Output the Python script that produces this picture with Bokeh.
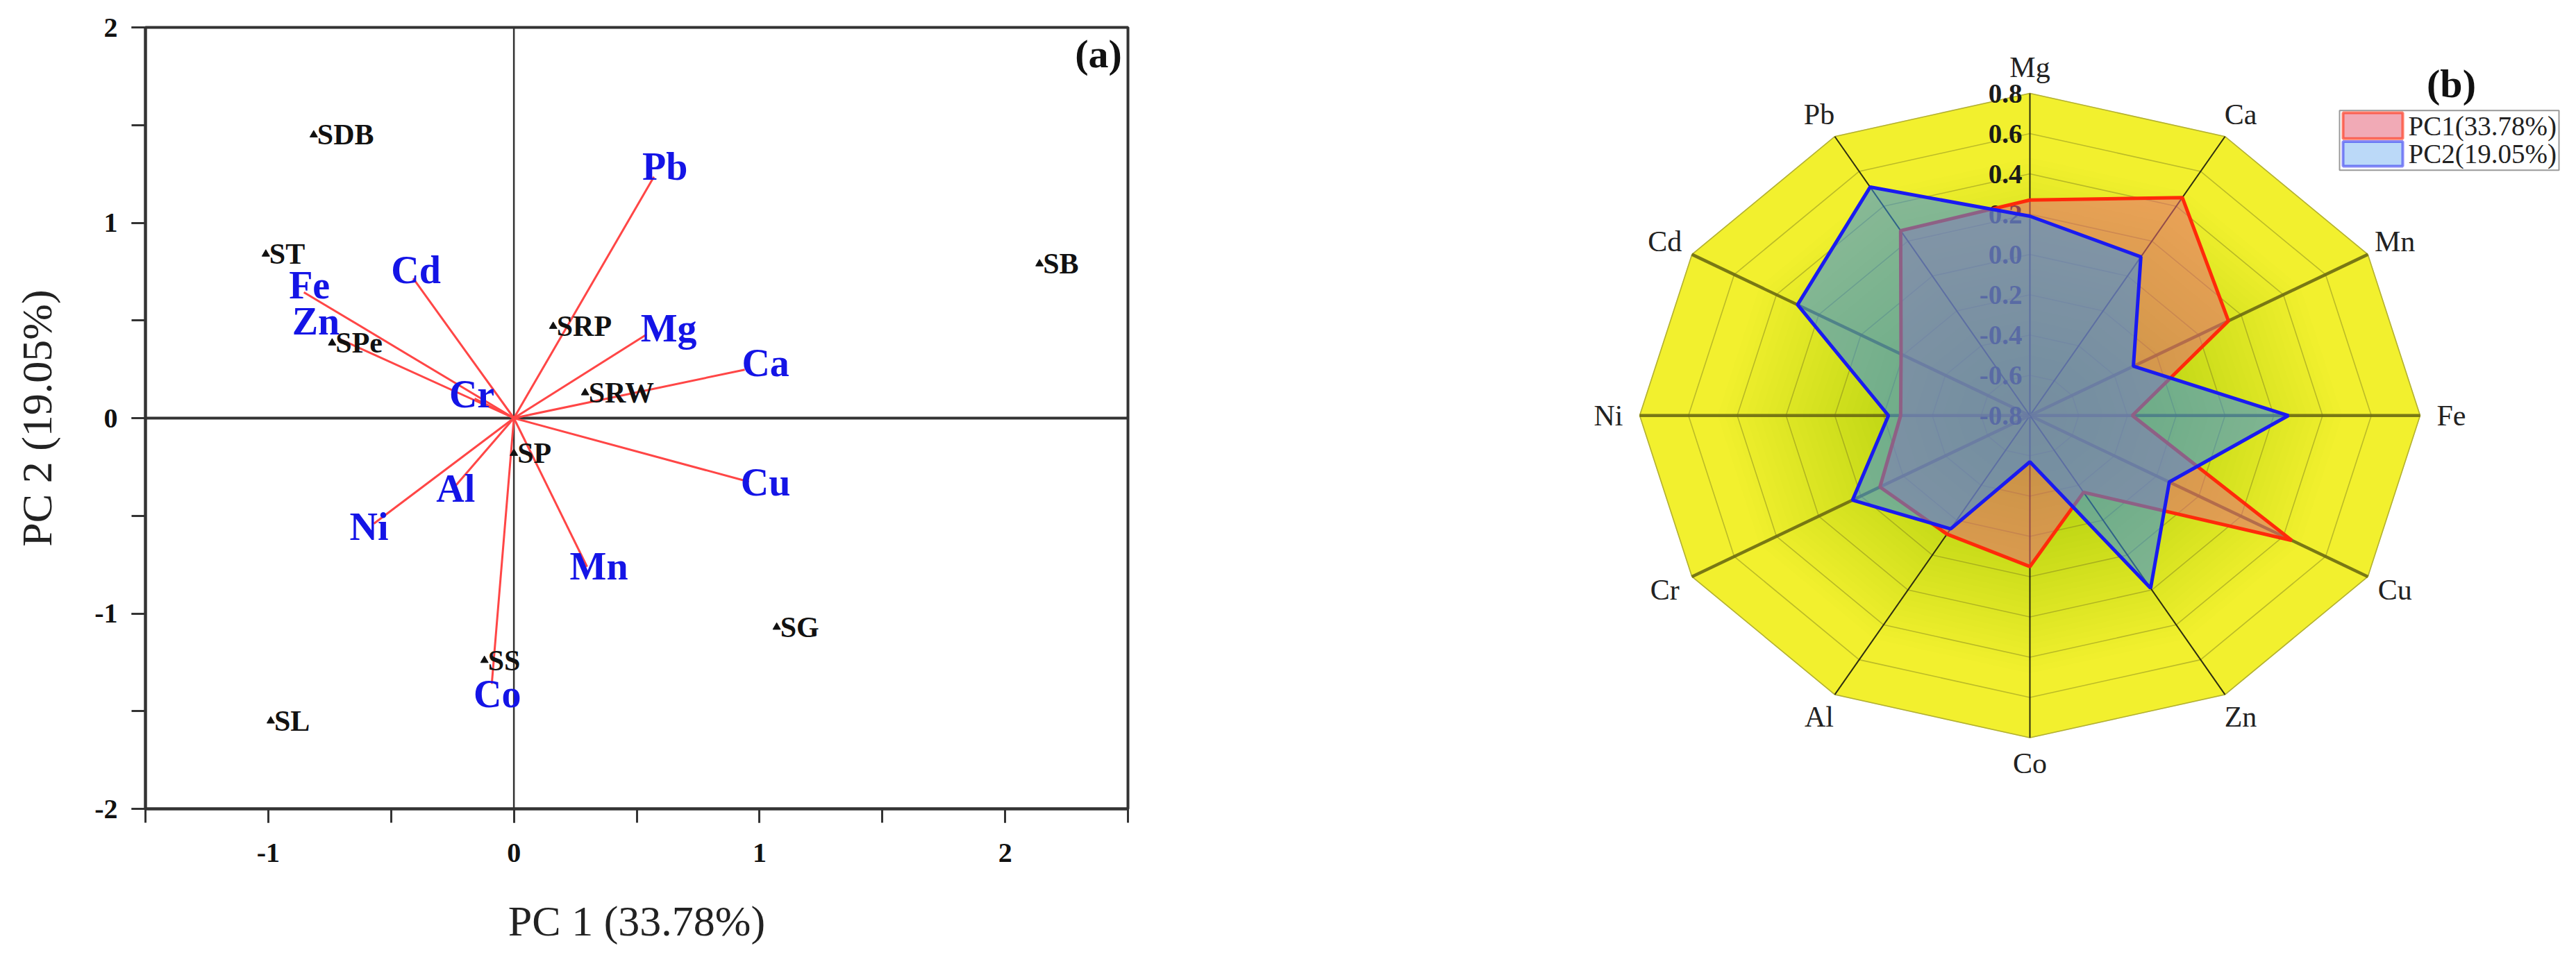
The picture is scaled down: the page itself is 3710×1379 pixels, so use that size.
import numpy as np
from bokeh.plotting import figure
from bokeh.models import Range1d, SingleIntervalTicker, Span, Label, ColumnDataSource
from bokeh.layouts import row
from bokeh.embed import file_html
from bokeh.resources import INLINE
from bokeh.core.properties import value

# ---------------- data: (a) PCA biplot ----------------
sample_names = ["SDB", "ST", "SB", "SRP", "SPe", "SRW", "SP", "SG", "SS", "SL"]
sample_pc1 = [-0.815, -1.01, 2.14, 0.16, -0.74, 0.29, 0.0, 1.07, -0.12, -0.99]
sample_pc2 = [1.45, 0.84, 0.79, 0.47, 0.385, 0.13, -0.18, -1.07, -1.24, -1.55]

loading_names = ["Pb", "Cd", "Fe", "Zn", "Cr", "Mg", "Ca", "Cu", "Mn", "Co", "Ni", "Al"]
loading_pc1 = [0.57, -0.41, -0.855, -0.713, -0.16, 0.54, 0.94, 0.957, 0.298, -0.09, -0.57, -0.24]
loading_pc2 = [1.235, 0.715, 0.644, 0.407, 0.10, 0.428, 0.248, -0.326, -0.761, -1.36, -0.54, -0.35]

x_ticks = [-1, 0, 1, 2]
y_ticks = [-2, -1, 0, 1, 2]
x_title = "PC 1 (33.78%)"
y_title = "PC 2 (19.05%)"

# ---------------- data: (b) radar of loadings ----------------
radar_elements = ["Mg", "Ca", "Mn", "Fe", "Cu", "Zn", "Co", "Al", "Cr", "Ni", "Cd", "Pb"]
radar_pc1 = [0.27, 0.45, 0.14, -0.38, 0.44, -0.36, -0.05, -0.12, -0.09, -0.27, -0.19, 0.26]
radar_pc2 = [0.19, 0.11, -0.31, 0.26, -0.14, 0.19, -0.57, -0.15, 0.04, -0.22, 0.30, 0.51]
radar_ticks = [0.8, 0.6, 0.4, 0.2, 0.0, -0.2, -0.4, -0.6, -0.8]
series_names = ["PC1(33.78%)", "PC2(19.05%)"]

SERIF = "Liberation Serif"

# ======================= panel (a) =======================
p1 = figure(width=2000, height=1363, x_range=Range1d(-1.5, 2.5), y_range=Range1d(-2, 2),
            output_backend="svg", toolbar_location=None,
            min_border_left=209, min_border_top=39, min_border_right=376, min_border_bottom=196)
p1.outline_line_color = "#333333"
p1.outline_line_width = 4
p1.xgrid.visible = False
p1.ygrid.visible = False
p1.background_fill_color = "white"

for ax, ticks in ((p1.xaxis, x_ticks), (p1.yaxis, y_ticks)):
    ax.ticker = SingleIntervalTicker(interval=1, num_minor_ticks=2)
    ax.major_label_overrides = {t: str(t) for t in ticks}
    ax.axis_line_width = 4
    ax.axis_line_color = "#333333"
    ax.major_tick_line_width = 3
    ax.major_tick_line_color = "#333333"
    ax.minor_tick_line_width = 3
    ax.minor_tick_line_color = "#333333"
    ax.major_tick_out = 20
    ax.major_tick_in = 0
    ax.minor_tick_out = 20
    ax.minor_tick_in = 0
    ax.major_label_text_font = SERIF
    ax.major_label_text_font_style = "bold"
    ax.major_label_text_font_size = "40px"
    ax.major_label_text_color = "#111111"
    ax.axis_label_text_font = SERIF
    ax.axis_label_text_font_style = "normal"
    ax.axis_label_text_font_size = "62px"
    ax.axis_label_text_color = "#222222"
p1.xaxis.major_label_standoff = 30
p1.yaxis.major_label_standoff = 20
p1.xaxis.axis_label = x_title
p1.xaxis.axis_label_standoff = 48
p1.yaxis.axis_label = y_title
p1.yaxis.axis_label_standoff = 46

p1.add_layout(Span(location=0, dimension="width", line_width=4, line_color="#333333", level="underlay"))
p1.add_layout(Span(location=0, dimension="height", line_width=2.5, line_color="#333333", level="underlay"))

# loading vectors
label_offsets = {"Pb": (16, -15), "Cd": (4, -12), "Fe": (8, -10), "Zn": (-33, -25),
                 "Cr": (-4, -6), "Mg": (32, -9), "Ca": (30, -10), "Cu": (24, 1),
                 "Mn": (17, -1), "Co": (8, 15), "Ni": (-7, 4), "Al": (1, 3)}
lsrc = ColumnDataSource(dict(
    x=loading_pc1, y=loading_pc2, name=loading_names,
    x0=[0] * len(loading_names), y0=[0] * len(loading_names),
    dx=[label_offsets[n][0] for n in loading_names],
    dy=[label_offsets[n][1] for n in loading_names]))
p1.segment(x0="x0", y0="y0", x1="x", y1="y", source=lsrc, line_color="#FF4646", line_width=3)

# samples
ssrc = ColumnDataSource(dict(x=sample_pc1, y=sample_pc2, name=sample_names))
p1.scatter(x="x", y="y", source=ssrc, marker="triangle", size=11, color="#111111")
p1.text(x="x", y="y", text="name", source=ssrc, x_offset=5, text_align="left",
        text_baseline="middle", text_font=value(SERIF), text_font_style="bold",
        text_font_size="42px", text_color="#111111")

p1.text(x="x", y="y", text="name", source=lsrc, x_offset="dx", y_offset="dy",
        text_align="center", text_baseline="middle", text_font=value(SERIF),
        text_font_style="bold", text_font_size="56px", text_color="#1414E6")

p1.add_layout(Label(x=2.38, y=1.866, text="(a)", text_align="center", text_baseline="middle",
                    text_font=SERIF, text_font_style="bold", text_font_size="58px",
                    text_color="#111111"))

# ======================= panel (b) =======================
PX = 351.25  # px per radar unit
W2, H2 = 1694, 1363
CX, CY = 923, 677
p2 = figure(width=W2, height=H2,
            x_range=Range1d(-CX / PX, (W2 - CX) / PX),
            y_range=Range1d(-(H2 - CY) / PX, CY / PX),
            output_backend="svg", toolbar_location=None,
            x_axis_location=None, y_axis_location=None, min_border=0)
p2.outline_line_color = None
p2.xgrid.visible = False
p2.ygrid.visible = False

RMIN = radar_ticks[-1]
RMAX = radar_ticks[0]
OUT = RMAX - RMIN
n = len(radar_elements)
ang = np.arange(n) * 2 * np.pi / n


def poly(radii):
    radii = np.asarray(radii, dtype=float)
    return list(radii * np.sin(ang)), list(radii * np.cos(ang))


bx, by = poly([OUT] * n)
p2.patch(bx, by, fill_color="#F2F02E", line_color="#E2DE40", line_width=1.5)

# soft greenish glow towards the middle
for k in range(40):
    rr = OUT * (0.80 - 0.018 * k)
    gx, gy = poly([rr] * n)
    p2.patch(gx, gy, fill_color="#6A9A20", fill_alpha=0.013, line_color=None)

# grid rings
ring_xs, ring_ys = [], []
for t in radar_ticks[:-1]:
    gx, gy = poly([t - RMIN] * n)
    ring_xs.append(gx + [gx[0]])
    ring_ys.append(gy + [gy[0]])
p2.multi_line(ring_xs, ring_ys, line_color="#7A7A20", line_alpha=0.45, line_width=1.6)

# spokes
thick = {"Mn", "Fe", "Cu", "Cr", "Ni", "Cd"}
for i, el in enumerate(radar_elements):
    ex, ey = OUT * np.sin(ang[i]), OUT * np.cos(ang[i])
    if el in thick:
        p2.segment(0, 0, ex, ey, line_color="#6B6A12", line_width=4.5, line_alpha=0.9)
    else:
        p2.segment(0, 0, ex, ey, line_color="#2E2E10", line_width=2)

# radial tick labels (drawn below the polygons)
p2.text(x=[-11 / PX] * len(radar_ticks), y=[t - RMIN for t in radar_ticks],
        text=[f"{t:.1f}" for t in radar_ticks], text_align="right", text_baseline="middle",
        text_font=value(SERIF), text_font_style="bold", text_font_size="39px",
        text_color="#1A1A1A")

C1_FILL, C1_LINE, A1 = "#E6647A", "#FF2A0A", 0.55
C2_FILL, C2_LINE, A2 = "#328CEB", "#1A1AF0", 0.55

x1, y1 = poly([v - RMIN for v in radar_pc1])
x2, y2 = poly([v - RMIN for v in radar_pc2])
p2.patch(x1, y1, fill_color=C1_FILL, fill_alpha=A1, line_color=C1_LINE, line_width=5)
p2.patch(x2, y2, fill_color=C2_FILL, fill_alpha=A2, line_color=C2_LINE, line_width=5)

LR = OUT + 45 / PX
lx, ly = poly([LR] * n)
p2.text(x=lx, y=ly, text=radar_elements, text_align="center", text_baseline="middle",
        text_font=value(SERIF), text_font_size="42px", text_color="#222222")

p2.add_layout(Label(x=(3538 - 2931) / PX, y=(685 - 106) / PX, text="(b)", text_align="center",
                    text_baseline="middle", text_font=SERIF, text_font_style="bold",
                    text_font_size="58px", text_color="#111111"))

# legend box (px offsets from the radar centre)
p2.quad(left=446 / PX, right=762 / PX, top=532 / PX, bottom=428 / PX,
        fill_color="white", line_color="#999999", line_width=2)
p2.quad(left=[451 / PX], right=[537 / PX], top=[528 / PX], bottom=[483 / PX],
        fill_color=C1_FILL, fill_alpha=A1, line_color=C1_LINE, line_alpha=0.6, line_width=4)
p2.quad(left=[451 / PX], right=[537 / PX], top=[478 / PX], bottom=[435 / PX],
        fill_color=C2_FILL, fill_alpha=A2 * 0.6, line_color=C2_LINE, line_alpha=0.5, line_width=4)
p2.text(x=[545 / PX, 545 / PX], y=[505 / PX, 457 / PX], text=series_names,
        text_align="left", text_baseline="middle", text_font=value(SERIF),
        text_font_size="39px", text_color="#222222")

layout = row(p1, p2)
open("out.html", "w").write(file_html(layout, INLINE))
